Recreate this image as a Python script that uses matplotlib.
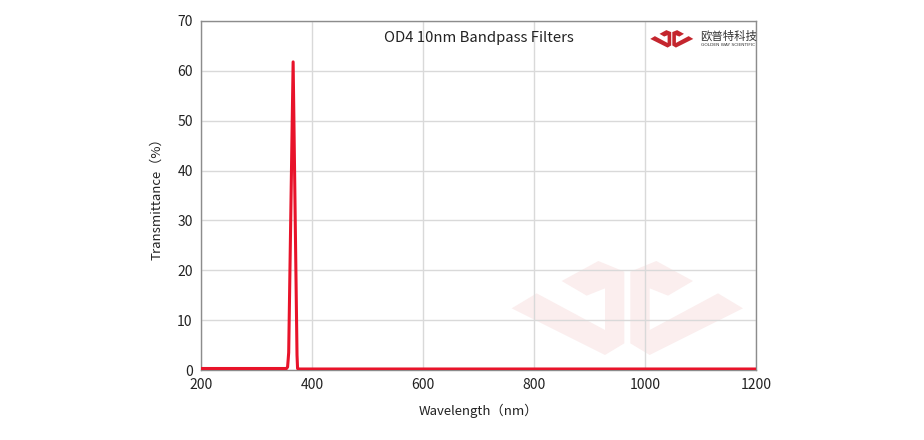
import matplotlib.pyplot as plt
from matplotlib.patches import Polygon

plt.rcParams['font.family'] = ['Noto Sans CJK SC', 'DejaVu Sans']

# spectrum
wavelength = [200, 300, 350, 354, 356, 357, 358, 366, 373, 374, 376, 400, 600, 800, 1000, 1200]
transmission = [0.3, 0.3, 0.3, 0.3, 0.6, 2.0, 3.5, 61.8, 3.0, 0.3, 0.2, 0.2, 0.2, 0.2, 0.2, 0.2]

title = "OD4 10nm Bandpass Filters"
xticks = [200, 400, 600, 800, 1000, 1200]
yticks = [0, 10, 20, 30, 40, 50, 60, 70]

W, H = 924, 440
fig = plt.figure(figsize=(W / 100, H / 100), dpi=100)
ax = fig.add_axes([201 / W, 1 - 370 / H, (756 - 201) / W, (370 - 21) / H])

ax.plot(wavelength, transmission, color="#e8132a", lw=2.2, zorder=3)
ax.set_xlim(200, 1200)
ax.set_ylim(0, 70)
ax.set_xticks(xticks)
ax.set_yticks(yticks)
ax.grid(True, color="#d9d9d9", lw=1)
ax.set_axisbelow(True)
ax.tick_params(length=0, labelsize=10, colors="#222222", pad=6)
for s in ax.spines.values():
    s.set_color("#8c8c8c")
    s.set_linewidth(1)
ax.set_xlabel("Wavelength（nm）", fontsize=9.5, color="#222222", labelpad=8)
ax.set_ylabel("Transmittance（%）", fontsize=9.5, color="#222222", labelpad=10)
ax.text(0.5, 0.95, title, transform=ax.transAxes, ha="center", va="center",
        fontsize=10.7, color="#222222")

# logo shape (left half, local pixel coords), mirrored for the right half
left_shape = [(20, 160), (95, 115), (300, 225), (300, 100), (245, 122), (170, 78),
              (280, 18), (358, 50), (358, 265), (300, 300)]
axis_x = 367


def draw_logo(x0, y0, scale, color, z):
    for pts in (left_shape, [(2 * axis_x - x, y) for x, y in left_shape]):
        verts = [((x0 + x * scale) / W, 1 - (y0 + y * scale) / H) for x, y in pts]
        ax.add_artist(Polygon(verts, closed=True, transform=fig.transFigure,
                              facecolor=color, edgecolor="none", zorder=z))


# watermark behind the grid
draw_logo(505, 255, 1 / 3, "#fbeeee", 0.5)
# small logo top right
draw_logo(649, 29, 0.062, "#c4262e", 4)
fig.text(700 / W, 1 - 36 / H, "欧普特科技", fontsize=8.2, color="#333333", va="center")
fig.text(701 / W, 1 - 45 / H, "GOLDEN WAY SCIENTIFIC", fontsize=3.2, color="#333333",
         va="center", family="DejaVu Sans")

fig.savefig("out.png", dpi=100)
